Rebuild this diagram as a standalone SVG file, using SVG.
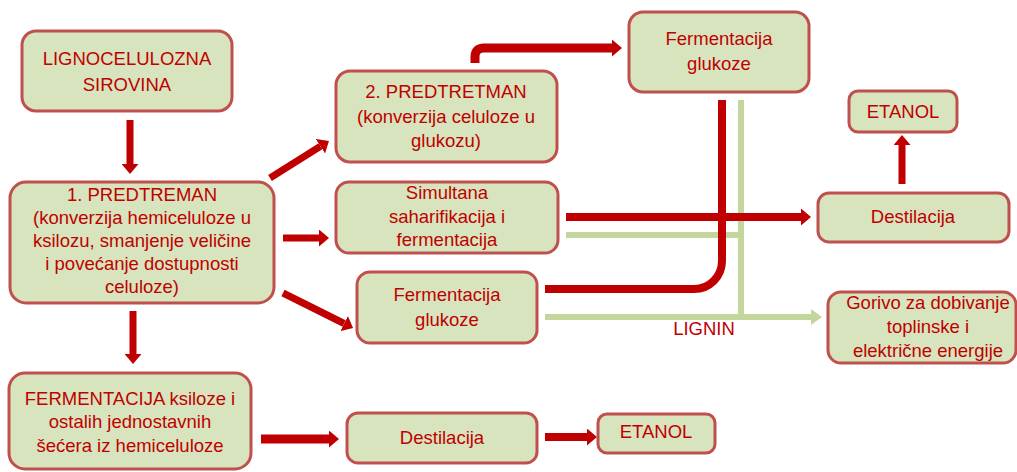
<svg xmlns="http://www.w3.org/2000/svg" width="1017" height="472" viewBox="0 0 1017 472">
<defs>
<style>
.box{fill:#d7e4bd;stroke:#c0504d;stroke-width:3}
.t{font-family:"Liberation Sans",Arial,sans-serif;font-size:18.5px;fill:#c00000;text-anchor:middle}
.r{fill:none;stroke:#c00000}
.g{fill:none;stroke:#c3d69b;stroke-width:6}
</style>
<marker id="ah" markerUnits="userSpaceOnUse" markerWidth="10" markerHeight="17" viewBox="0 0 10 10" preserveAspectRatio="none" refX="0" refY="5" orient="auto"><path d="M0,0 L10,5 L0,10 z" fill="#c00000"/></marker>
<marker id="ag" markerUnits="userSpaceOnUse" markerWidth="11" markerHeight="16" viewBox="0 0 10 10" preserveAspectRatio="none" refX="0" refY="5" orient="auto"><path d="M0,0 L10,5 L0,10 z" fill="#c3d69b"/></marker>
</defs>
<rect width="1017" height="472" fill="#ffffff"/>
<g id="connectors">
<path class="g" d="M566,235 H741"/>
<path class="g" d="M741,100 V317"/>
<path class="g" d="M545,317 H811" marker-end="url(#ag)"/>
<path class="r" stroke-width="7" d="M130,120 V164" marker-end="url(#ah)"/>
<path class="r" stroke-width="7" d="M270,178 L320.5,146.3" marker-end="url(#ah)"/>
<path class="r" stroke-width="7" d="M283,238 H319" marker-end="url(#ah)"/>
<path class="r" stroke-width="7" d="M283,293 L344.1,323.5" marker-end="url(#ah)"/>
<path class="r" stroke-width="7" d="M133,311 V354" marker-end="url(#ah)"/>
<path class="r" stroke-width="9" d="M261,439 H329" marker-end="url(#ah)"/>
<path class="r" stroke-width="8" d="M545,437 H587" marker-end="url(#ah)"/>
<path class="r" stroke-width="9" d="M475,63 V57 Q475,48 484,48 H612" marker-end="url(#ah)"/>
<path class="r" stroke-width="8" d="M566,217 H801" marker-end="url(#ah)"/>
<path class="r" stroke-width="8" d="M545,289 H694 A28,28 0 0 0 722,261 V100"/>
<path class="r" stroke-width="7" d="M902,184 V145" marker-end="url(#ah)"/>
<text class="t" x="704" y="335" font-size="17">LIGNIN</text>
</g>
<g id="n-sirovina"><rect class="box" x="22" y="31" width="210" height="80" rx="14"/>
<text class="t" x="127" y="65">LIGNOCELULOZNA</text><text class="t" x="127" y="91">SIROVINA</text></g>
<g id="n-pred1"><rect class="box" x="10" y="182" width="264" height="121" rx="16"/>
<text class="t" x="142" y="201">1. PREDTREMAN</text>
<text class="t" x="142" y="224">(konverzija hemiceluloze u</text>
<text class="t" x="142" y="247">ksilozu, smanjenje veličine</text>
<text class="t" x="142" y="270">i povećanje dostupnosti</text>
<text class="t" x="142" y="293">celuloze)</text></g>
<g id="n-pred2"><rect class="box" x="336" y="71" width="221" height="91" rx="14"/>
<text class="t" x="446" y="98">2. PREDTRETMAN</text>
<text class="t" x="446" y="123">(konverzija celuloze u</text>
<text class="t" x="446" y="147">glukozu)</text></g>
<g id="n-ferm-top"><rect class="box" x="629" y="12" width="180" height="80" rx="14"/>
<text class="t" x="719" y="45">Fermentacija</text><text class="t" x="719" y="70">glukoze</text></g>
<g id="n-etanol-top"><rect class="box" x="849" y="91" width="108" height="41" rx="9"/>
<text class="t" x="903" y="118">ETANOL</text></g>
<g id="n-dest-right"><rect class="box" x="818" y="193" width="191" height="49" rx="11"/>
<text class="t" x="913" y="223">Destilacija</text></g>
<g id="n-ssf"><rect class="box" x="336" y="182" width="222" height="71" rx="13"/>
<text class="t" x="447" y="199">Simultana</text>
<text class="t" x="447" y="223">saharifikacija i</text>
<text class="t" x="447" y="246">fermentacija</text></g>
<g id="n-ferm-mid"><rect class="box" x="357" y="272" width="180" height="71" rx="13"/>
<text class="t" x="447" y="301">Fermentacija</text><text class="t" x="447" y="326">glukoze</text></g>
<g id="n-gorivo"><rect class="box" x="828" y="292" width="188" height="71" rx="13"/>
<text class="t" x="928" y="309">Gorivo za dobivanje</text>
<text class="t" x="928" y="333">toplinske i</text>
<text class="t" x="928" y="357">električne energije</text></g>
<g id="n-ferm-ksil"><rect class="box" x="9" y="373" width="242" height="96" rx="16"/>
<text class="t" x="130" y="405" font-size="17">FERMENTACIJA ksiloze i</text>
<text class="t" x="130" y="428" font-size="17">ostalih jednostavnih</text>
<text class="t" x="130" y="452" font-size="17">šećera iz hemiceluloze</text></g>
<g id="n-dest-bottom"><rect class="box" x="347" y="413" width="190" height="50" rx="11"/>
<text class="t" x="442" y="444">Destilacija</text></g>
<g id="n-etanol-bottom"><rect class="box" x="598" y="414" width="117" height="39" rx="9"/>
<text class="t" x="656" y="438">ETANOL</text></g>
</svg>
